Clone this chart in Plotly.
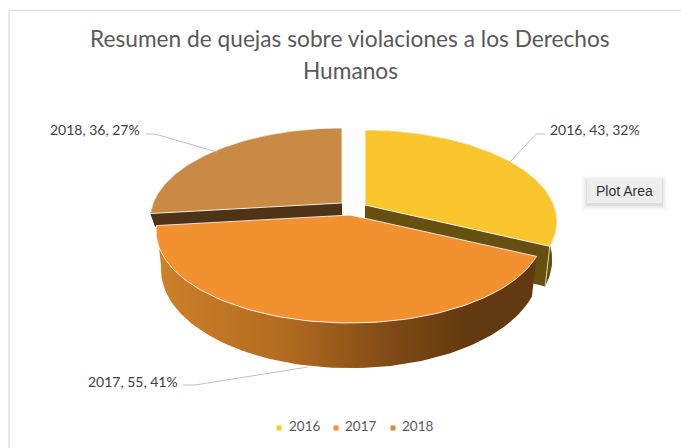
import math
import plotly.graph_objects as go

# --- data ---
years = ["2016", "2017", "2018"]
quejas = [43, 55, 36]
title_lines = ["Resumen de quejas sobre violaciones a los Derechos", "Humanos"]
tooltip_text = "Plot Area"

# --- styling ---
top_colors = ["#FAC62D", "#F39030", "#C98A43"]
cut_colors = ["#655010", "#63390F", "#4F3316"]
wall_scale = [[0, "#CE8129"], [0.35, "#B06A20"], [0.62, "#7E4A15"], [0.82, "#63390F"], [1, "#63390F"]]
centres = [(365, 205, 1.0), (350, 215, 1.01), (342, 203, 1.0)]
FONT = "Lato"
TXT = "#595959"

# perspective model of the pie disc
D, G, F, DEPTH, SHRINK = 5.545, 491.0, 1047.0, 37.0, 0.975


def proj(t, c):
    X, Y = math.sin(t), math.cos(t)
    w = D + Y
    return c[0] + c[2] * F * X / w, c[1] - G * Y / w


def low(t, c, depth=DEPTH):
    x, y = proj(t, c)
    return c[0] + (x - c[0]) * SHRINK, y + depth * D / (D + math.cos(t))


def arc(a, b, c, fn=proj, n=90):
    pts = [fn(a + (b - a) * i / n, c) for i in range(n + 1)]
    return [p[0] for p in pts], [p[1] for p in pts]


total = sum(quejas)
angles = []
acc = 0.0
for v in quejas:
    angles.append((acc, acc + 2 * math.pi * v / total))
    acc += 2 * math.pi * v / total

fig = go.Figure()


def poly(xs, ys, **kw):
    fig.add_trace(go.Scatter(x=xs, y=ys, mode="lines", fill="toself", hoverinfo="skip",
                             showlegend=False, **kw))


def none_line():
    return dict(width=0, color="rgba(0,0,0,0)")


def cut_face(t, c, colour, depth=DEPTH):
    r0, r1 = proj(t, c), low(t, c, depth)
    poly([c[0], r0[0], r1[0], c[0]], [c[1], r0[1], r1[1], c[1] + depth], fillcolor=colour, line=none_line())


def wall(a, b, c, depth=DEPTH, **kw):
    x1, y1 = arc(a, b, c)
    x2, y2 = arc(b, a, c, lambda t, cc: low(t, cc, depth))
    poly(x1 + x2, y1 + y2, line=none_line(), **kw)


def top(i):
    c = centres[i]
    x, y = arc(angles[i][0], angles[i][1], c)
    poly([c[0]] + x + [c[0]], [c[1]] + y + [c[1]], fillcolor=top_colors[i],
         line=dict(color="#FFFFFF", width=0.8))


# brown slice (back left): most of its side is hidden behind the orange slice
BROWN_DEPTH = 13.0
cut_face(angles[2][0], centres[2], cut_colors[2], BROWN_DEPTH)
wall(angles[2][0], angles[2][1], centres[2], BROWN_DEPTH, fillcolor=cut_colors[2])
top(2)
# yellow slice (back right)
wall(angles[0][0], angles[0][1], centres[0], fillcolor=cut_colors[0])
cut_face(angles[0][1], centres[0], cut_colors[0])
e0, e1 = proj(angles[0][1], centres[0]), low(angles[0][1], centres[0])
fig.add_trace(go.Scatter(x=[e0[0], e1[0]], y=[e0[1], e1[1]], mode="lines", hoverinfo="skip", showlegend=False,
                         line=dict(color="#D9D2A8", width=1)))
top(0)
# orange slice (front)
wall(angles[1][0], angles[1][1], centres[1], fillcolor="#63390F",
     fillgradient=dict(type="horizontal", colorscale=wall_scale))
top(1)

# leader lines
leaders = [([545, 536, 510], [134, 134, 162]),
           ([183, 195, 308], [385, 385, 367]),
           ([146, 155, 217], [134, 134, 152])]
for lx, ly in leaders:
    fig.add_trace(go.Scatter(x=lx, y=ly, mode="lines", line=dict(color="#BFBFBF", width=1),
                             hoverinfo="skip", showlegend=False))

# data labels
label_pos = [(548, 129, "left"), (180, 381, "right"), (142, 129, "right")]
ann = []
for yr, v, (lx, ly, al) in zip(years, quejas, label_pos):
    ann.append(dict(x=lx, y=ly, text=f"{yr}, {v}, {round(100 * v / total)}%", showarrow=False, xanchor=al,
                    yanchor="middle", font=dict(family=FONT, size=14, color="#404040")))

# title
for line, ty in zip(title_lines, [38, 70]):
    ann.append(dict(x=350, y=ty, text=line, showarrow=False, xanchor="center", yanchor="middle",
                    font=dict(family=FONT, size=22.7, color=TXT)))

# legend
leg_sq = [279, 336, 393]
leg_tx = [287, 343, 400]
for i, yr in enumerate(years):
    fig.add_trace(go.Scatter(x=[leg_sq[i]], y=[428], mode="markers", name=yr, hoverinfo="skip",
                             marker=dict(symbol="square", size=5, color=top_colors[i]), showlegend=False))
    ann.append(dict(x=leg_tx[i], y=426, text=yr, showarrow=False, xanchor="left", yanchor="middle",
                    font=dict(family=FONT, size=13.5, color=TXT)))

# tooltip
ann.append(dict(x=624.5, y=191, text=tooltip_text, showarrow=False, xanchor="center", yanchor="middle",
                font=dict(family="Liberation Sans", size=14, color="#333333")))

shapes = []
# tooltip shadow + box
for g, op in [(6, 0.015), (4, 0.025), (2.5, 0.04), (1, 0.06)]:
    shapes.append(dict(type="rect", x0=587 - g, x1=662 + g, y0=179 - g + 2, y1=203 + g + 2,
                       fillcolor=f"rgba(0,0,0,{op})", line=dict(width=0), layer="below"))
shapes.append(dict(type="rect", x0=587, x1=662, y0=179, y1=203, fillcolor="#EEEEEE",
                   line=dict(width=0), layer="below"))
# chart frame
shapes.append(dict(type="line", x0=9, x1=681, y0=10.5, y1=10.5, line=dict(color="#E2E2E2", width=1.5)))
shapes.append(dict(type="line", x0=9, x1=9, y0=10.5, y1=448, line=dict(color="#E2E2E2", width=1.5)))

fig.update_layout(
    width=681, height=448, margin=dict(l=0, r=0, t=0, b=0),
    paper_bgcolor="white", plot_bgcolor="white", showlegend=False,
    xaxis=dict(range=[0, 681], visible=False, fixedrange=True),
    yaxis=dict(range=[448, 0], visible=False, fixedrange=True),
    annotations=ann, shapes=shapes,
)
fig.write_html("out.html", config={"displayModeBar": False},
               post_script="document.body.style.margin='0';document.documentElement.style.overflow='hidden';")
